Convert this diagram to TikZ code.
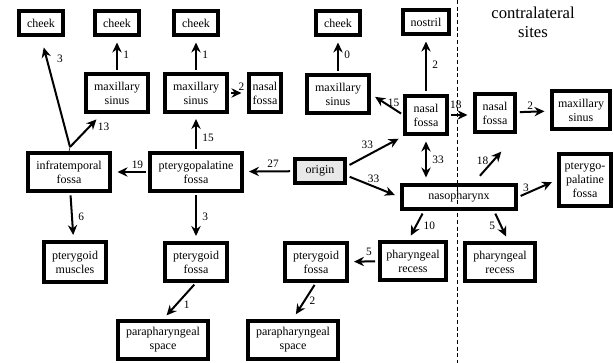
\documentclass[tikz,border=0pt]{standalone}
\usepackage{fontspec}
\setmainfont{Liberation Serif}
\usetikzlibrary{arrows.meta}

\begin{document}
\begin{tikzpicture}[
    x=0.75pt, y=-0.75pt,
    box/.style={rectangle, draw, line width=2.9pt, align=center, inner xsep=2pt, inner ysep=2pt, font=\fontsize{9}{10.5}\selectfont, minimum width=46.1pt, minimum height=28.1pt},
    small/.style={minimum width=33.4pt, minimum height=18.4pt},
    start/.style={box, small, fill=gray!18},
    lbl/.style={font=\fontsize{8.5}{10}\selectfont, inner sep=1pt},
    arrow/.style={-{Stealth[length=7.5pt, width=7pt, inset=2.5pt]}, line width=1.5pt, shorten <=2pt, shorten >=4pt}
]

% page size of the reference
\useasboundingbox (0,0) rectangle (614,363);

% side border
\draw[dashed, line width=0.7pt, dash pattern=on 3pt off 2pt] (457,0) -- (457,363);
\node[font=\fontsize{12.5}{14.5}\selectfont, align=center] (contra) at (533,22) {contralateral\\sites};

% top row
\node[box, small] (cheekA) at (41,23) {cheek};
\node[box, small] (cheekB) at (117,23) {cheek};
\node[box, small] (cheekC) at (196,23) {cheek};
\node[box, small] (cheekD) at (338,23) {cheek};
\node[box, small, minimum width=34.9pt] (nostril) at (426,22) {nostril};

% sinus row
\node[box] (msA) at (117,93) {maxillary\\sinus};
\node[box] (msB) at (196,93) {maxillary\\sinus};
\node[box, minimum width=24.4pt] (nfA) at (265,93) {nasal\\fossa};
\node[box] (msC) at (338,94) {maxillary\\sinus};
\node[box, minimum width=31.1pt, minimum height=28.9pt] (nfB) at (426,115) {nasal\\fossa};
\node[box, minimum width=30.4pt] (nfR) at (495,113) {nasal\\fossa};
\node[box, minimum width=43.9pt] (msR) at (581,110) {maxillary\\sinus};

% middle row
\node[box, minimum width=61.9pt] (itf) at (69,172) {infratemporal\\fossa};
\node[box, minimum width=68.6pt] (ppf) at (196,172) {pterygopalatine\\fossa};
\node[start, minimum width=37.9pt] (origin) at (320,171) {origin};
\node[box, small, minimum width=85.9pt] (naso) at (459,197) {nasopharynx};
\node[box, minimum width=39.4pt, minimum height=39.4pt] (ppfR) at (585,180) {pterygo-\\palatine\\fossa};
\coordinate (split) at (70,147);

% lower rows
\node[box, minimum height=29.6pt] (pm) at (75,262) {pterygoid\\muscles};
\node[box] (pfA) at (196,262) {pterygoid\\fossa};
\node[box] (pfB) at (316,262) {pterygoid\\fossa};
\node[box, minimum width=49.9pt] (phrL) at (413,261) {pharyngeal\\recess};
\node[box, minimum width=52.1pt] (phrR) at (500,262) {pharyngeal\\recess};
\node[box, minimum width=67.9pt] (psA) at (163,340) {parapharyngeal\\space};
\node[box, minimum width=67.9pt, minimum height=28.9pt] (psB) at (293,340) {parapharyngeal\\space};

% spread from the origin
\draw[arrow] (origin) -- node[lbl, above=1pt, pos=0.4] {27} (ppf);
\draw[arrow] (origin.10) -- node[lbl, above left, pos=0.5] {33} (nfB.south west);
\draw[arrow] (origin.350) -- node[lbl, above=1pt, pos=0.5] {33} (naso.west);
\draw[arrow] (ppf) -- node[lbl, above=1pt, pos=0.3] {19} (itf);
\draw[arrow] (ppf) -- node[lbl, right=3pt, pos=0.35] {15} (msB);
\draw[arrow] (ppf) -- node[lbl, right=3pt] {3} (pfA);
\draw[arrow] (msA) -- node[lbl, right=3pt] {1} (cheekB);
\draw[arrow] (msB) -- node[lbl, right=3pt] {1} (cheekC);
\draw[arrow] (msB) -- node[lbl, above, pos=0.7] {2} (nfA);
\draw[arrow, shorten <=0pt, shorten >=8pt] (split) -- node[lbl, right=6pt, pos=0.8] {3} (cheekA.south);
\draw[arrow, shorten <=0pt, shorten >=6pt] (split) -- node[lbl, below right, pos=0.8] {13} (msA.234);
\draw (itf.north) -- (split);
\draw[arrow] (itf) -- node[lbl, right=3pt] {6} (pm);
\draw[arrow] (pfA.south) -- node[lbl, right=4pt, pos=0.6] {1} (psA.north);

% nasal side
\draw[arrow] (nfB) -- node[lbl, right=3pt] {2} (nostril);
\draw[arrow] (nfB.west) -- node[lbl, above, pos=0.3] {15} (msC.east);
\draw[arrow] (msC) -- node[lbl, right=3pt] {0} (cheekD);
\draw[{Stealth[length=7.5pt, width=7pt, inset=2.5pt]}-{Stealth[length=7.5pt, width=7pt, inset=2.5pt]}, line width=1.5pt, shorten <=4pt, shorten >=4pt] (nfB.south) -- node[lbl, right=3pt] {33} (nfB.south |- naso.north);
\draw[arrow] (nfB.east) -- node[lbl, above=3pt, pos=0.3] {18} (nfB.east -| nfR.west);
\draw[arrow] (nfR) -- node[lbl, above, pos=0.4] {2} (msR);
\draw[arrow, shorten <=7pt, shorten >=18pt] (naso.44) -- node[lbl, left=2pt, pos=0.45] {18} (nfR.south east);
\draw[arrow] (naso.east) -- node[lbl, above, pos=0.2] {3} (ppfR.west);
\draw[arrow] (naso.202) -- node[lbl, right=4pt] {10} (phrL.103);
\draw[arrow] (naso.338) -- node[lbl, left=3pt] {5} (phrR.68);
\draw[arrow] (phrL) -- node[lbl, above=3pt, pos=0.3] {5} (pfB);
\draw[arrow] (pfB.south) -- node[lbl, right=2pt] {2} (psB.north);

\end{tikzpicture}
\end{document}
